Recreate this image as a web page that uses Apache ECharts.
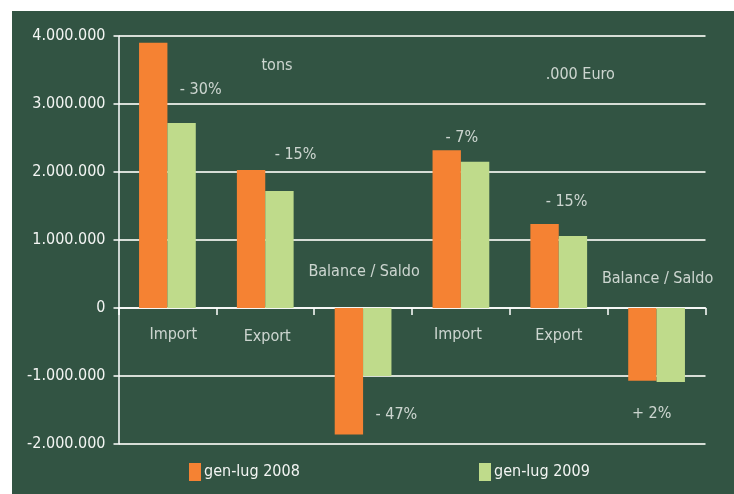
<!DOCTYPE html>
<html>
<head>
<meta charset="utf-8">
<script src="https://cdn.jsdelivr.net/npm/echarts@6/dist/echarts.min.js"></script>
<style>
html,body{margin:0;padding:0;background:#ffffff;}
#chart{width:734px;height:494px;}
</style>
</head>
<body>
<div id="chart"></div>
<script>
// ---- data ----
const categories = ['Import', 'Export', 'Balance / Saldo', 'Import', 'Export', 'Balance / Saldo'];
const seriesNames = ['gen-lug 2008', 'gen-lug 2009'];
const values2008 = [3900000, 2030000, -1860000, 2320000, 1235000, -1070000];
const values2009 = [2720000, 1720000, -1000000, 2150000, 1060000, -1090000];
const yTicks = { min: -2000000, max: 4000000, interval: 1000000 };
// annotation texts and their anchor in data units (x: category span 0..6, y: value)
const noteTexts = ['tons', '.000 Euro', '- 30%', '- 15%', '- 47%', '- 7%', '- 15%', '+ 2%',
  'Balance / Saldo', 'Balance / Saldo', 'Import', 'Export', 'Import', 'Export'];
const noteX = [1.62, 4.72, 0.84, 1.81, 2.84, 3.51, 4.58, 5.45, 2.51, 5.51, 0.56, 1.52, 3.47, 4.50];
const noteY = [3560000, 3430000, 3210000, 2250000, -1570000, 2500000, 1560000, -1560000,
  530000, 430000, -400000, -420000, -400000, -410000];

const FONT = "'DejaVu Sans Condensed', 'Liberation Sans Narrow', sans-serif";
const FS = 16;
const TXT = '#f3f5f3';
const ORANGE = '#f58233';
const GREEN = '#bfdb8b';

function fmt(v) {
  if (v === 0) return '0';
  const s = Math.abs(v).toString().replace(/\B(?=(\d{3})+(?!\d))/g, '.');
  return (v < 0 ? '-' : '') + s;
}

const legendBase = {
  itemWidth: 12, itemHeight: 18, icon: 'rect', top: 458,
  textStyle: { color: TXT, fontSize: FS, fontFamily: FONT, padding: [0, 0, 0, -2] }
};

const chart = echarts.init(document.getElementById('chart'), null, { renderer: 'canvas' });
chart.setOption({
  backgroundColor: '#ffffff',
  textStyle: { fontFamily: FONT, color: TXT },
  animation: false,
  graphic: [{
    type: 'rect', z: -10, silent: true,
    shape: { x: 12, y: 11, width: 722, height: 483 },
    style: { fill: '#325443' }
  }],
  grid: { left: 118.5, right: 28.5, top: 36, bottom: 50, containLabel: false },
  legend: [
    Object.assign({}, legendBase, { data: [seriesNames[0]], left: 184 }),
    Object.assign({}, legendBase, { data: [seriesNames[1]], left: 474 })
  ],
  xAxis: [{
    type: 'category',
    data: categories,
    axisLine: { onZero: true, lineStyle: { color: '#ffffff', width: 1.5 } },
    axisTick: { show: true, interval: 0, length: 7, lineStyle: { color: '#ffffff', width: 1.5 } },
    axisLabel: { show: false, interval: 0 },
    splitLine: { show: false }
  }, {
    type: 'value', min: 0, max: 6, show: false
  }],
  yAxis: {
    type: 'value',
    min: yTicks.min, max: yTicks.max, interval: yTicks.interval,
    axisLine: { show: true, lineStyle: { color: '#ffffff', width: 1.5 } },
    axisTick: { show: true, length: 5, lineStyle: { color: '#ffffff', width: 1.5 } },
    axisLabel: { color: TXT, fontSize: FS, fontFamily: FONT, margin: 13, formatter: fmt },
    splitLine: { show: true, lineStyle: { color: '#d6ddd6', width: 2 } }
  },
  series: [{
    name: seriesNames[0], type: 'bar', data: values2008,
    itemStyle: { color: ORANGE }, barGap: '0%', barCategoryGap: '42%'
  }, {
    name: seriesNames[1], type: 'bar', data: values2009,
    itemStyle: { color: GREEN }, barGap: '0%', barCategoryGap: '42%'
  }, {
    name: 'notes', type: 'scatter', xAxisIndex: 1, silent: true,
    symbol: 'circle', symbolSize: 1,
    itemStyle: { color: 'rgba(0,0,0,0)' },
    data: noteTexts.map(function (t, i) { return { name: t, value: [noteX[i], noteY[i]] }; }),
    label: {
      show: true, position: 'inside', formatter: '{b}',
      color: TXT, fontSize: FS, fontFamily: FONT
    }
  }]
});
</script>
</body>
</html>
